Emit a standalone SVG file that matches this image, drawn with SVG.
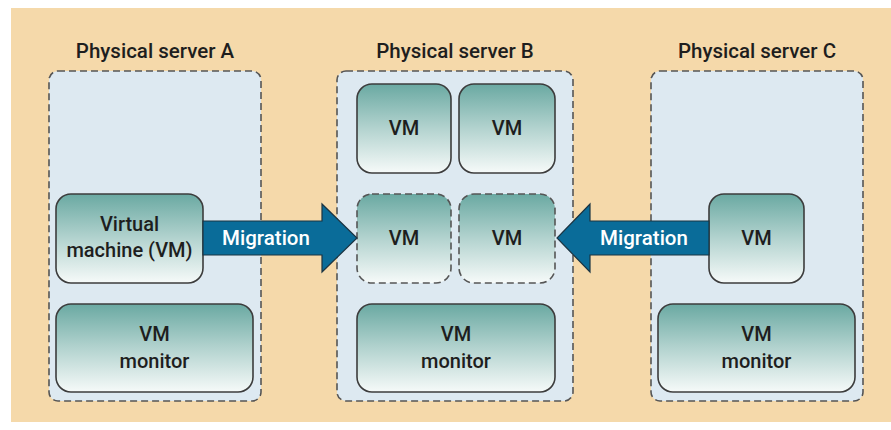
<svg xmlns="http://www.w3.org/2000/svg" width="891" height="430" viewBox="0 0 891 430">
<defs>
<linearGradient id="g" x1="0" y1="0" x2="0" y2="1">
<stop offset="0" stop-color="#6aa9a2"/>
<stop offset="0.5" stop-color="#b3d3cf"/>
<stop offset="1" stop-color="#f6faf9"/>
</linearGradient>
<style>
.srv{fill:#dde9f1;stroke:#555;stroke-width:1.6;stroke-dasharray:7 4}
.vm{fill:url(#g);stroke:#3c3c3c;stroke-width:1.6}
.vmd{fill:url(#g);stroke:#555;stroke-width:1.6;stroke-dasharray:7 4}
.t{font-family:Roboto,"Liberation Sans",sans-serif;font-weight:500;fill:#1e1e1e;text-anchor:middle}
.title{font-size:20.5px}
.lbl{font-size:20px}
.arr{fill:#0a6c99;stroke:#1b3442;stroke-width:1.2}
.mig{font-family:Roboto,"Liberation Sans",sans-serif;font-weight:500;font-size:20.5px;fill:#fff;text-anchor:middle}
</style>
</defs>
<rect x="0" y="0" width="891" height="430" fill="#fff"/>
<rect x="11" y="8" width="880" height="414" fill="#f5d9aa"/>

<g id="serverA">
<rect class="srv" x="49" y="71" width="212" height="330" rx="9"/>
<text class="t title" x="155" y="58">Physical server A</text>
</g>
<g id="serverB">
<rect class="srv" x="337" y="71" width="236" height="330" rx="9"/>
<text class="t title" x="455" y="58">Physical server B</text>
</g>
<g id="serverC">
<rect class="srv" x="651" y="71" width="212" height="330" rx="9"/>
<text class="t title" x="757" y="58">Physical server C</text>
</g>

<g id="vmA">
<rect class="vm" x="56" y="194" width="147" height="89" rx="15"/>
<text class="t lbl" x="129.5" y="231">Virtual</text>
<text class="t lbl" x="129.5" y="257">machine (VM)</text>
</g>
<g id="monA">
<rect class="vm" x="56" y="304" width="197" height="88" rx="15"/>
<text class="t lbl" x="154.5" y="341">VM</text>
<text class="t lbl" x="154.5" y="368">monitor</text>
</g>

<g id="vmB1">
<rect class="vm" x="357" y="84" width="94" height="89" rx="15"/>
<text class="t lbl" x="404" y="135">VM</text>
</g>
<g id="vmB2">
<rect class="vm" x="459" y="84" width="96" height="89" rx="15"/>
<text class="t lbl" x="507" y="135">VM</text>
</g>
<g id="vmB3">
<rect class="vmd" x="357" y="194" width="94" height="89" rx="15"/>
<text class="t lbl" x="404" y="245">VM</text>
</g>
<g id="vmB4">
<rect class="vmd" x="459" y="194" width="96" height="89" rx="15"/>
<text class="t lbl" x="507" y="245">VM</text>
</g>
<g id="monB">
<rect class="vm" x="357" y="304" width="198" height="88" rx="15"/>
<text class="t lbl" x="456" y="341">VM</text>
<text class="t lbl" x="456" y="368">monitor</text>
</g>

<g id="vmC">
<rect class="vm" x="709" y="194" width="95" height="89" rx="15"/>
<text class="t lbl" x="756.5" y="245">VM</text>
</g>
<g id="monC">
<rect class="vm" x="658" y="304" width="197" height="88" rx="15"/>
<text class="t lbl" x="756.5" y="341">VM</text>
<text class="t lbl" x="756.5" y="368">monitor</text>
</g>

<g id="connectors">
<polygon class="arr" points="203,221 322,221 322,204 357,238 322,272 322,255 203,255"/>
<text class="mig" x="266" y="245">Migration</text>
<polygon class="arr" points="709,221 590,221 590,204 557,238 590,272 590,255 709,255"/>
<text class="mig" x="644" y="245">Migration</text>
</g>
</svg>
